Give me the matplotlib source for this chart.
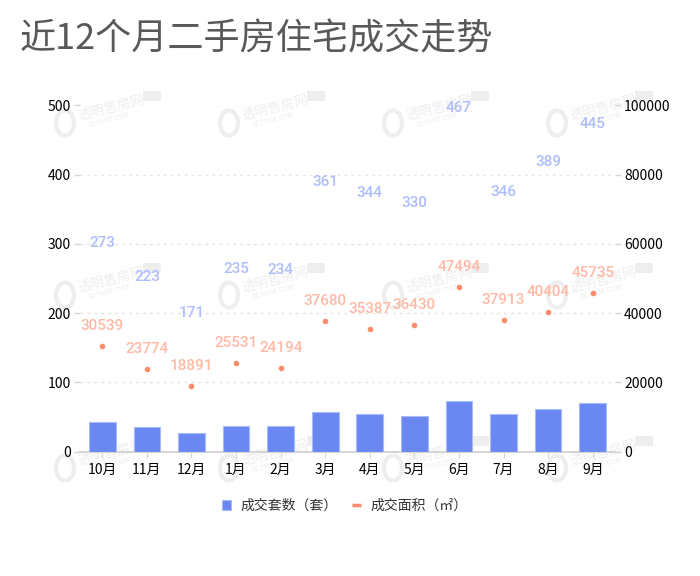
import matplotlib
matplotlib.use("Agg")
import matplotlib.pyplot as plt
from matplotlib.lines import Line2D
from matplotlib.patches import Ellipse, Rectangle

plt.rcParams["font.family"] = ["Noto Sans CJK SC", "DejaVu Sans"]

months = ["10月", "11月", "12月", "1月", "2月", "3月", "4月", "5月", "6月", "7月", "8月", "9月"]
# bar heights as drawn against the left axis
bar_heights = [43, 35, 27, 37, 37, 57, 54, 52, 73, 54, 61, 70]
count_labels = [273, 223, 171, 235, 234, 361, 344, 330, 467, 346, 389, 445]
areas = [30539, 23774, 18891, 25531, 24194, 37680, 35387, 36430, 47494, 37913, 40404, 45735]
left_ticks = [0, 100, 200, 300, 400, 500]
right_ticks = [0, 20000, 40000, 60000, 80000, 100000]

BAR = "#6a87f2"
BAR_EDGE = "#a9bbf8"
DOT = "#fb8b6b"
BLUE_TEXT = "#aebdfb"
ORANGE_TEXT = "#ffb9a5"
MARK = "#eeeeee"
PX = 0.72  # points per pixel at dpi 100


def draw_watermarks(fig):
    """Faint site logo and name, repeated behind the chart."""
    wm = fig.add_axes([0, 0, 1, 1], zorder=0)
    wm.set_xlim(0, 700)
    wm.set_ylim(576, 0)
    wm.axis("off")
    for cy in [123, 295, 468]:
        for cx in [65, 229, 393, 557]:
            wm.add_patch(Ellipse((cx, cy), 18, 25, fc="none", ec=MARK, lw=3))
            wm.text(cx + 46, cy - 15, "透明售房网", color=MARK, fontsize=9.8,
                    rotation=14, ha="center", va="center")
            wm.text(cx + 44, cy - 3, "SZ.TMSF.COM", color=MARK, fontsize=4.8,
                    rotation=14, ha="center", va="center")
            wm.add_patch(Rectangle((cx + 78, cy - 32), 18, 10, fc=MARK, ec="none"))


fig = plt.figure(figsize=(7, 5.76), dpi=100)
draw_watermarks(fig)
ax = fig.add_axes([80 / 700, 1 - 451.5 / 576, 535 / 700, 346 / 576], zorder=2)
ax.patch.set_alpha(0)
ax2 = ax.twinx()
ax2.patch.set_alpha(0)
positions = list(range(len(months)))

ax.bar(positions, bar_heights, width=0.6, color=BAR, edgecolor=BAR_EDGE, linewidth=0.8, zorder=3)
ax2.scatter(positions, areas, s=9, color=DOT, zorder=4)

ax.set_xlim(-0.5, 11.5)
ax.set_ylim(0, 500)
ax2.set_ylim(0, 100000)
ax.set_xticks(positions)
ax.set_xticklabels(months)
ax.set_yticks(left_ticks)
ax2.set_yticks(right_ticks)
ax.yaxis.grid(True, color="#e4e4e4", linestyle=(0, (2, 3)), linewidth=1)
ax.set_axisbelow(True)

for side in ["top", "left", "right"]:
    ax.spines[side].set_visible(False)
    ax2.spines[side].set_visible(False)
ax2.spines["bottom"].set_visible(False)
ax.spines["bottom"].set_color("#d6d6d6")
ax.spines["bottom"].set_linewidth(1.5)

ax.tick_params(axis="x", length=4, width=0.8, color="#d6d6d6", labelsize=10, pad=4.5)
ax.tick_params(axis="y", length=4, width=1, color="#d6d6d6", labelsize=10, pad=2.5)
ax2.tick_params(axis="y", length=4, width=1, color="#d6d6d6", labelsize=10, pad=2.5)

for x, count in zip(positions, count_labels):
    ax.annotate(str(count), (x, count), xytext=(0, 20 * PX), textcoords="offset points",
                ha="center", va="center", color=BLUE_TEXT, fontsize=11, fontweight="medium",
                family=["Roboto", "DejaVu Sans"], zorder=6, annotation_clip=False)
for x, area in zip(positions, areas):
    ax2.annotate(str(area), (x, area), xytext=(0, 20 * PX), textcoords="offset points",
                 ha="center", va="center", color=ORANGE_TEXT, fontsize=11, fontweight="medium",
                 family=["Roboto", "DejaVu Sans"], zorder=6, annotation_clip=False)

handles = [
    Rectangle((0, 0), 1, 1, fc=BAR, ec=BAR_EDGE, lw=0.8),
    Line2D([0], [0], color=DOT, lw=2.5, solid_capstyle="butt"),
]
fig.legend(handles, ["成交套数（套）", "成交面积（㎡）"], loc="center",
           bbox_to_anchor=(345 / 700, 1 - 506 / 576), ncol=2, frameon=False,
           fontsize=10, handlelength=0.65, handleheight=0.65, handletextpad=0.7, columnspacing=1.0,
           labelcolor="#333333")

fig.text(20 / 700, 1 - 39.5 / 576, "近12个月二手房住宅成交走势", fontsize=26, color="#595959",
         ha="left", va="center")

fig.savefig("out.png", dpi=100, facecolor="white")
